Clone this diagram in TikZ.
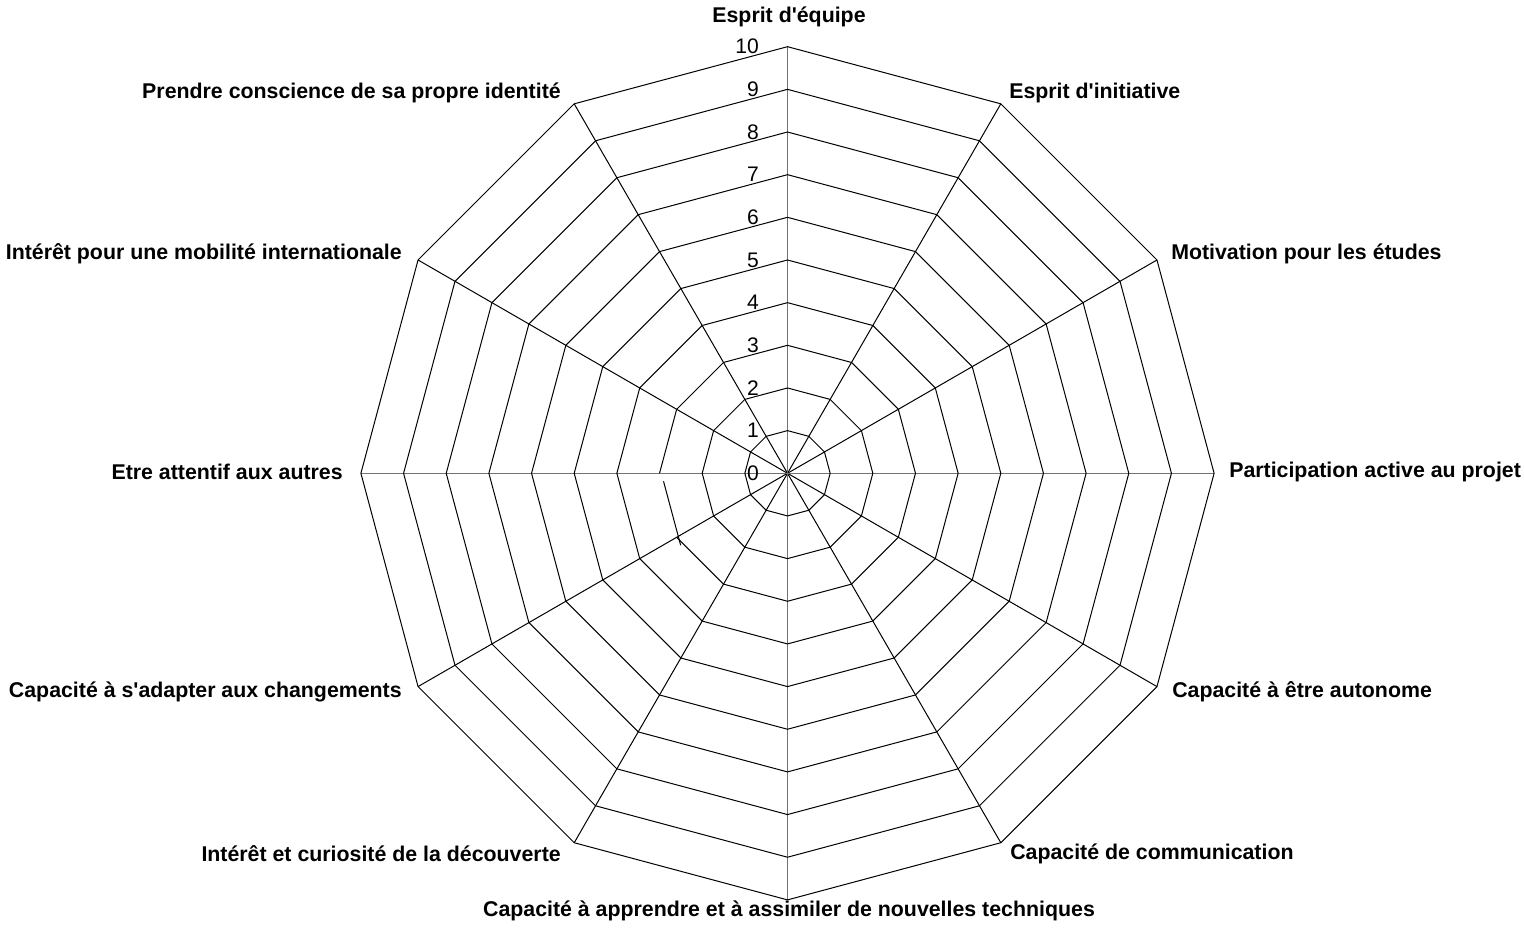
\documentclass[tikz,border=0pt]{standalone}
\usepackage{fontspec}
\setmainfont{Liberation Sans}[Ligatures=TeXOff]
\begin{document}
\begin{tikzpicture}[x=0.75pt,y=0.75pt,
  ring/.style={draw=black,line width=0.75pt,line join=miter},
  spoke/.style={draw=black,line width=0.75pt},
  spokegray/.style={draw=black!55,line width=0.8pt},
  tick/.style={font=\fontsize{15.8}{17}\selectfont,inner sep=0pt,anchor=east},
  axlabel/.style={font=\fontsize{16}{17}\selectfont\bfseries,inner sep=0pt}]
\useasboundingbox (0,0) rectangle (1524,944);
\def\unit{42.66}
\begin{scope}[shift={(787.5,470.7)}]
  % spokes: one per category, clockwise from the top
  \foreach \k in {1,2,4,5,7,8,10,11}
    \draw[spoke] (0,0) -- (90-30*\k:10*\unit);
  \foreach \k in {0,3,6,9}
    \draw[spokegray] (0,0) -- (90-30*\k:10*\unit);
  % value rings 1..10 (ring 3 has its left-lower side drawn apart)
  \foreach \r in {1,2,4,5,6,7,8,9,10}
    \draw[ring] (90:\r*\unit) \foreach \k in {1,...,11}{ -- (90-30*\k:\r*\unit)} -- cycle;
  \draw[ring] (180:3*\unit) \foreach \k in {1,...,11}{ -- (180-30*\k:3*\unit)};
  \draw[ring] ([shift={(4,-8)}]180:3*\unit) -- ([shift={(4,-8)}]210:3*\unit);
  % scale numbers along the upper axis
  \foreach \r in {0,...,10}
    \node[tick] (t\r) at (-28.5,\r*\unit) {\r};
\end{scope}
% category labels
\node[axlabel,anchor=center] (c0) at (789,927) {Esprit d'équipe};
\node[axlabel,anchor=west] (c1) at (1009,851) {Esprit d'initiative};
\node[axlabel,anchor=west] (c2) at (1171,690) {Motivation pour les études};
\node[axlabel,anchor=west] (c3) at (1229,472) {Participation active au projet};
\node[axlabel,anchor=west] (c4) at (1172,252) {Capacité à être autonome};
\node[axlabel,anchor=west] (c5) at (1010,90) {Capacité de communication};
\node[axlabel,anchor=center] (c6) at (789,33) {Capacité à apprendre et à assimiler de nouvelles techniques};
\node[axlabel,anchor=east] (c7) at (561,90) {Intérêt et curiosité de la découverte};
\node[axlabel,anchor=east] (c8) at (402,252) {Capacité à s'adapter aux changements};
\node[axlabel,anchor=east] (c9) at (343,472) {Etre attentif aux autres};
\node[axlabel,anchor=east] (c10) at (402,690) {Intérêt pour une mobilité internationale};
\node[axlabel,anchor=east] (c11) at (561,851) {Prendre conscience de sa propre identité};
\end{tikzpicture}
\end{document}
